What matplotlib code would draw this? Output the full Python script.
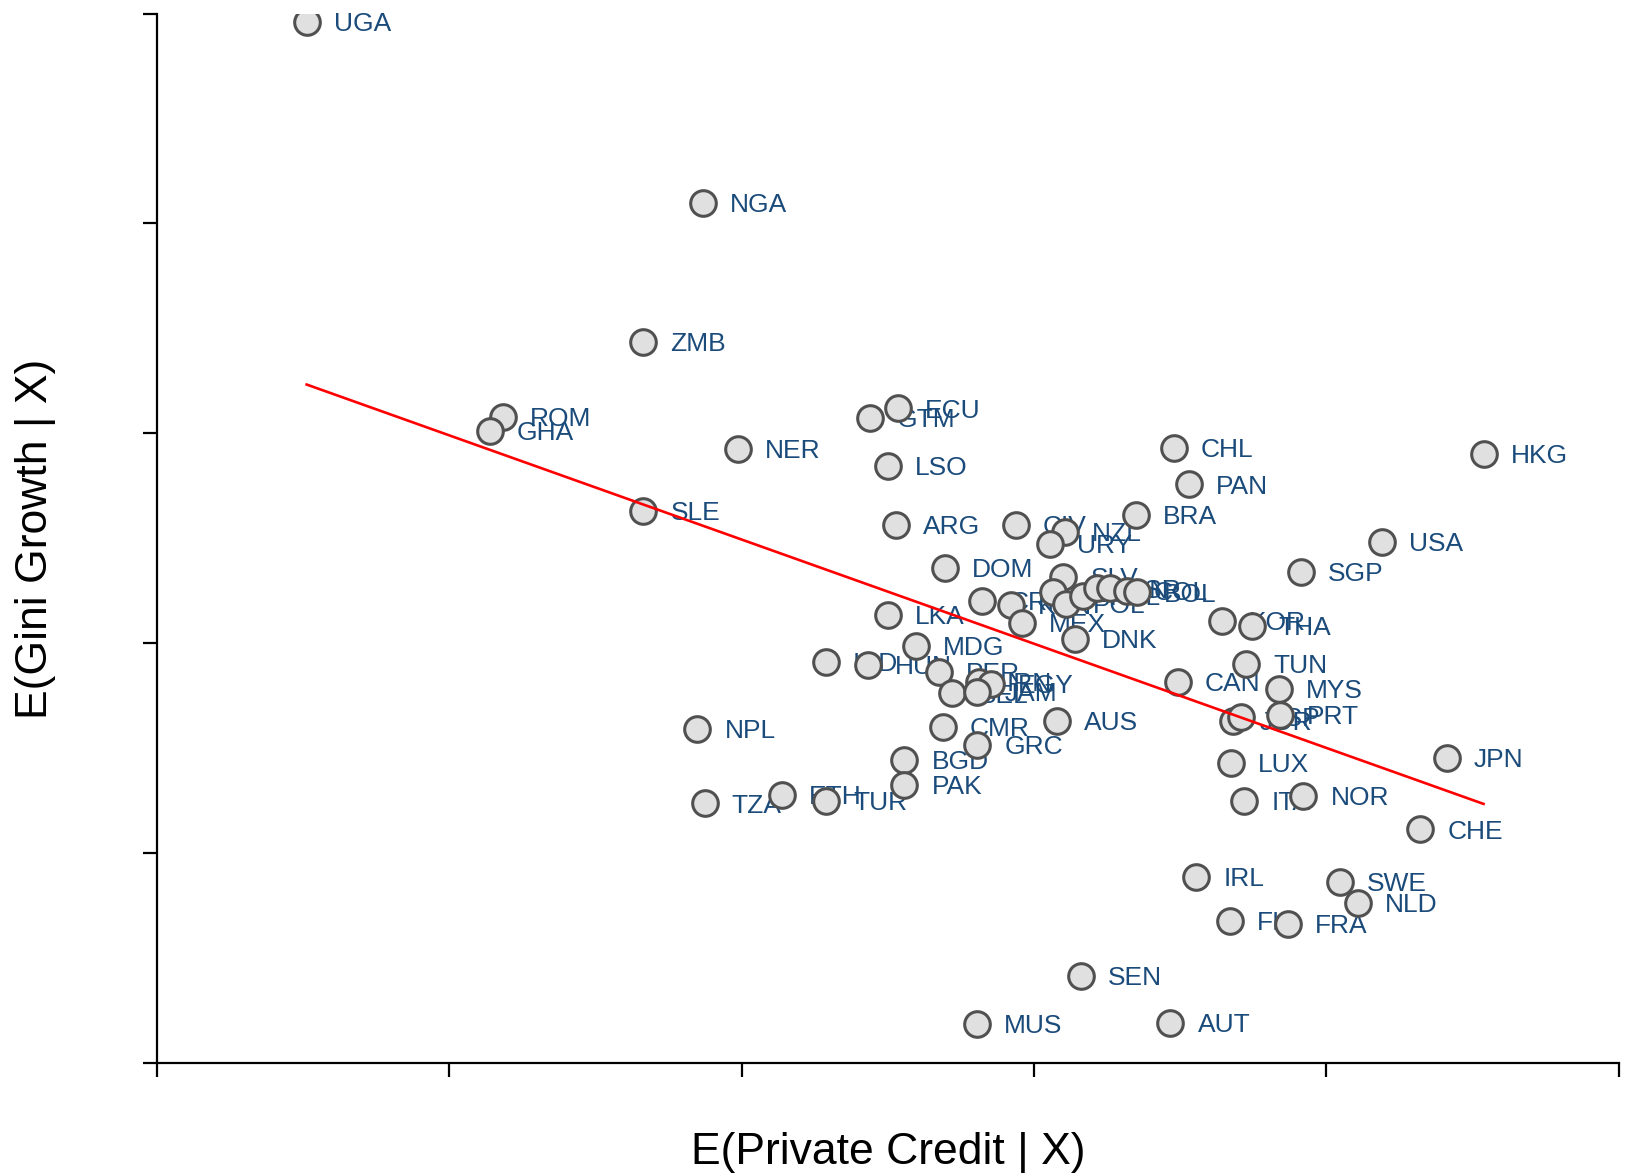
import numpy as np
import matplotlib
matplotlib.use("Agg")
import matplotlib.pyplot as plt

plt.rcParams['font.family'] = ['Liberation Sans', 'DejaVu Sans']

countries = ["UGA", "NGA", "ZMB", "ROM", "GHA", "ECU", "GTM", "NER", "LSO", "CHL",
             "HKG", "PAN", "SLE", "BRA", "ARG", "CIV", "NZL", "URY", "USA", "SGP",
             "DOM", "SLV", "CRI", "KEN", "MEX", "VEN", "POL", "PHL", "IDN", "ISR",
             "COL", "BOL", "LKA", "MDG", "DNK", "KOR", "THA", "TUN", "CAN", "MYS",
             "IND", "HUN", "PER", "IRN", "EGY", "BEL", "JAM", "CMR", "AUS", "GRC",
             "NPL", "BGD", "PAK", "JOR", "ESP", "PRT", "LUX", "JPN", "ITA", "NOR",
             "CHE", "IRL", "SWE", "NLD", "FIN", "FRA", "SEN", "MUS", "AUT", "TZA",
             "ETH", "TUR"]

private_credit = [0.512, 1.867, 1.664, 1.184, 1.138, 2.535, 2.439, 1.988, 2.500, 3.478,
                  4.538, 3.531, 1.664, 3.350, 2.528, 2.937, 3.105, 3.055, 4.189, 3.912,
                  2.696, 3.101, 2.824, 2.920, 2.959, 3.065, 3.108, 3.168, 3.215, 3.261,
                  3.318, 3.353, 2.500, 2.596, 3.140, 3.642, 3.745, 3.727, 3.492, 3.837,
                  2.287, 2.432, 2.674, 2.813, 2.852, 2.720, 2.806, 2.688, 3.080, 2.806,
                  1.849, 2.557, 2.557, 3.681, 3.709, 3.841, 3.674, 4.413, 3.720, 3.922,
                  4.321, 3.556, 4.047, 4.107, 3.670, 3.869, 3.161, 2.806, 3.467, 1.874,
                  2.137, 2.290]

gini_growth = [4.960, 4.099, 3.436, 3.079, 3.010, 3.119, 3.074, 2.926, 2.847, 2.931,
               2.901, 2.757, 2.629, 2.614, 2.564, 2.564, 2.530, 2.475, 2.485, 2.342,
               2.361, 2.317, 2.203, 2.183, 2.099, 2.243, 2.188, 2.228, 2.262, 2.262,
               2.252, 2.243, 2.134, 1.990, 2.020, 2.109, 2.084, 1.901, 1.817, 1.782,
               1.911, 1.896, 1.866, 1.817, 1.807, 1.762, 1.767, 1.604, 1.629, 1.515,
               1.594, 1.445, 1.327, 1.629, 1.648, 1.658, 1.431, 1.455, 1.248, 1.272,
               1.114, 0.886, 0.866, 0.762, 0.678, 0.663, 0.416, 0.188, 0.193, 1.238,
               1.277, 1.248]

x_label = "E(Private Credit | X)"
y_label = "E(Gini Growth | X)"

x = np.array(private_credit)
y = np.array(gini_growth)

fig = plt.figure(figsize=(16.30, 11.74), dpi=100)
ax = fig.add_axes([0.0963, 0.0942, 0.8967, 0.8943])

for xi, yi, name in zip(x, y, countries):
    ax.annotate(name, (xi, yi), xytext=(19.5, -1.5), textcoords='offset points',
                fontsize=19, color='#1b4b7a', va='center', ha='left', zorder=2)

ax.scatter(x, y, s=340, facecolor='#e0e0e0', edgecolor='#505050',
           linewidth=2.2, zorder=3)

slope, intercept = np.polyfit(x, y, 1)
xs = np.array([x.min(), x.max()])
ax.plot(xs, intercept + slope * xs, color='red', linewidth=1.9, zorder=4)

ax.set_xlim(0, 5)
ax.set_ylim(0, 5)
ax.set_xticks(np.arange(6))
ax.set_yticks(np.arange(6))
ax.set_xticklabels([])
ax.set_yticklabels([])
ax.tick_params(direction='out', length=10, width=1.6, color='black')
for side in ['top', 'right']:
    ax.spines[side].set_visible(False)
for side in ['left', 'bottom']:
    ax.spines[side].set_linewidth(1.6)
ax.patch.set_visible(False)

ax.set_xlabel(x_label, fontsize=32)
ax.set_ylabel(y_label, fontsize=32)
ax.xaxis.set_label_coords(0.5, -0.085)
ax.xaxis.label.set_va('center')
ax.yaxis.set_label_coords(-0.0828, 0.5)
ax.yaxis.label.set_va('center')
ax.yaxis.label.set_ha('center')

fig.savefig("out.png", dpi=100)
